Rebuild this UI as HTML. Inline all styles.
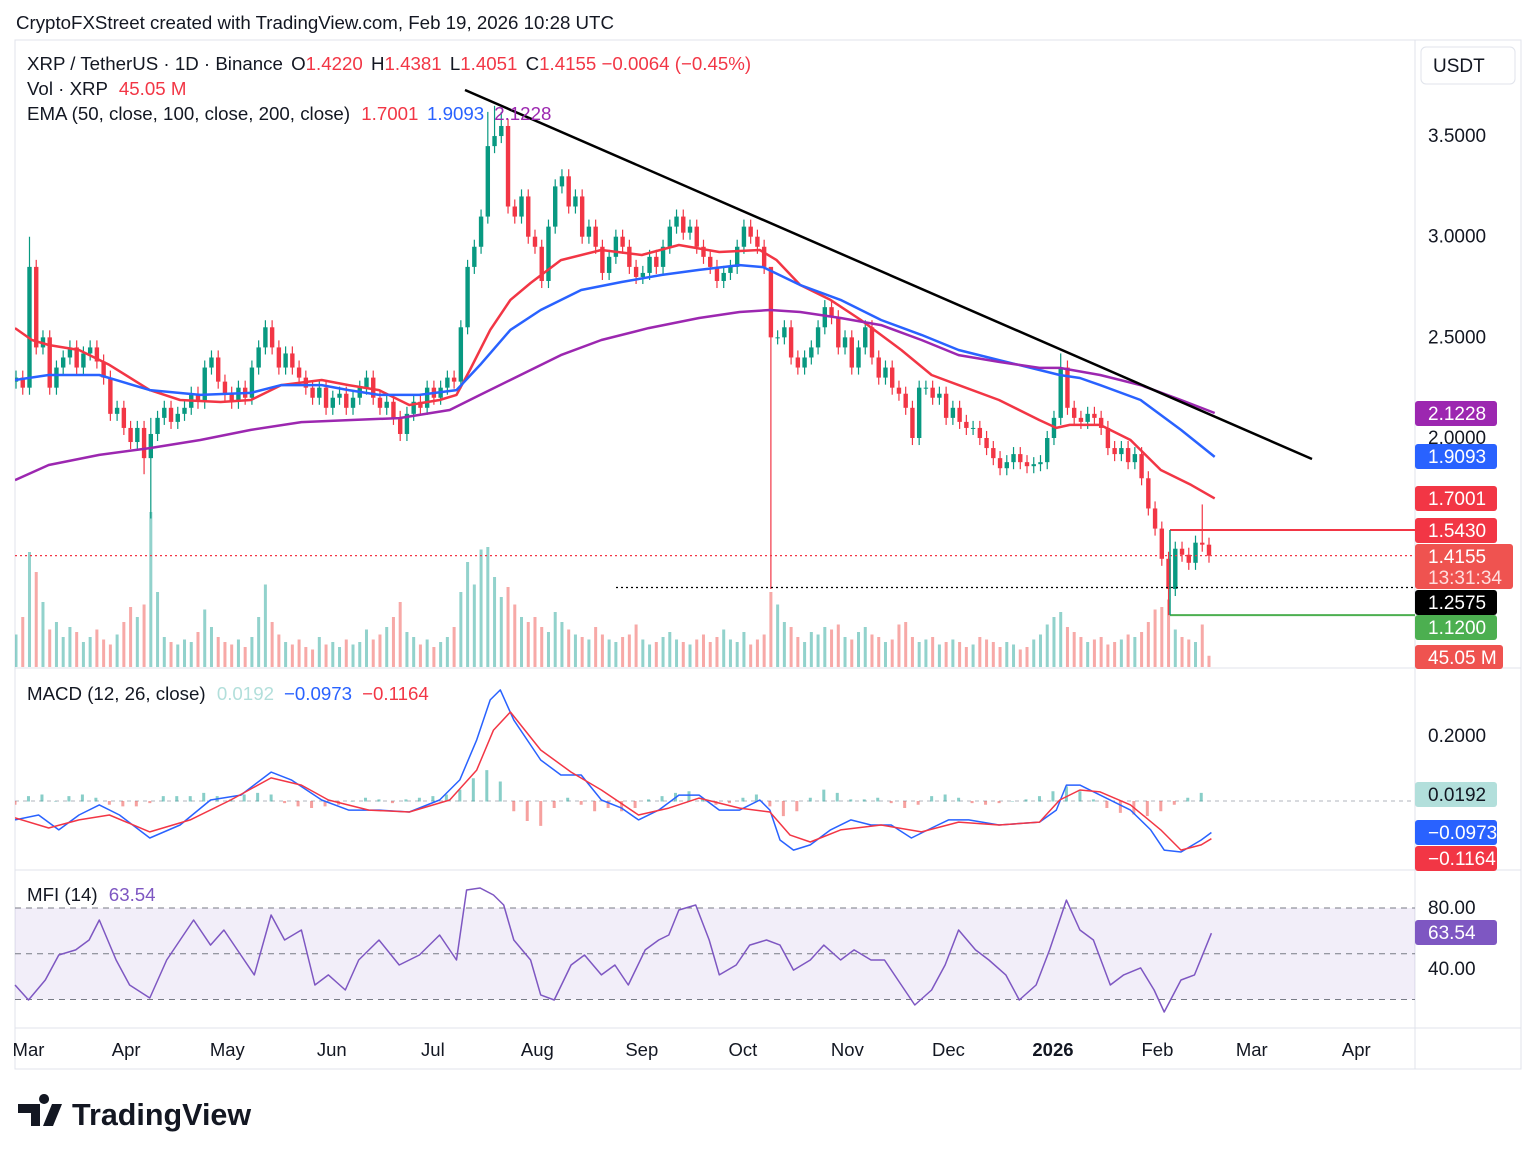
<!DOCTYPE html>
<html><head><meta charset="utf-8">
<style>
body{margin:0;background:#fff;font-family:"Liberation Sans",Arial,sans-serif;}
svg text{font-family:"Liberation Sans",Arial,sans-serif;}
</style></head>
<body>
<svg id="c" width="1536" height="1159" viewBox="0 0 1536 1159" xmlns="http://www.w3.org/2000/svg">
<rect x="0" y="0" width="1536" height="1159" fill="#fff"/>
<text x="16" y="29" font-size="18.7" fill="#131722">CryptoFXStreet created with TradingView.com, Feb 19, 2026 10:28 UTC</text>
<rect x="15" y="40" width="1506" height="1029" fill="none" stroke="#e0e3eb"/>
<line x1="1415" y1="40" x2="1415" y2="1069" stroke="#e0e3eb"/>
<line x1="15" y1="668" x2="1521" y2="668" stroke="#e0e3eb"/>
<line x1="15" y1="870" x2="1521" y2="870" stroke="#e0e3eb"/>
<line x1="15" y1="1028" x2="1521" y2="1028" stroke="#e0e3eb"/>
<g id="g"></g>
<g font-size="18.7">
<text x="27" y="70" fill="#131722">XRP / TetherUS · 1D · Binance <tspan fill="#131722" dx="3">O</tspan><tspan fill="#f23645">1.4220</tspan> <tspan fill="#131722" dx="3">H</tspan><tspan fill="#f23645">1.4381</tspan> <tspan fill="#131722" dx="3">L</tspan><tspan fill="#f23645">1.4051</tspan> <tspan fill="#131722" dx="3">C</tspan><tspan fill="#f23645">1.4155 −0.0064 (−0.45%)</tspan></text>
<text x="27" y="95" fill="#131722">Vol · XRP <tspan fill="#f23645" dx="6">45.05 M</tspan></text>
<text x="27" y="120" fill="#131722">EMA (50, close, 100, close, 200, close) <tspan fill="#f23645" dx="6">1.7001</tspan><tspan fill="#2962ff" dx="10">1.9093</tspan><tspan fill="#9c27b0" dx="10">2.1228</tspan></text>
<text x="27" y="700" fill="#131722">MACD (12, 26, close) <tspan fill="#b2dfdb" dx="6">0.0192</tspan><tspan fill="#2962ff" dx="10">−0.0973</tspan><tspan fill="#f23645" dx="10">−0.1164</tspan></text>
<text x="27" y="901" fill="#131722">MFI (14) <tspan fill="#7e57c2" dx="6">63.54</tspan></text>
</g>
<g>
<path d="M18 1104h22v22h-9v-13h-13z M44 1104a5 5 0 1 1 0.1 0z" fill="#131722"/>
<path d="M52 1104h10l-9 22h-10z" fill="#131722"/>
<text x="72" y="1125" font-size="30.5" font-weight="bold" fill="#131722">TradingView</text>
</g>
</svg>
<script>
// ---- data ----
const closes=[2.30,2.25,2.85,2.45,2.50,2.25,2.35,2.40,2.45,2.35,2.42,2.45,2.38,2.30,2.12,2.15,2.05,1.98,2.05,1.90,
2.02,2.10,2.15,2.08,2.12,2.15,2.22,2.18,2.35,2.40,2.28,2.22,2.18,2.25,2.20,2.35,2.45,2.55,2.45,2.35,
2.42,2.35,2.30,2.25,2.20,2.25,2.15,2.20,2.22,2.15,2.20,2.25,2.30,2.20,2.15,2.18,2.10,2.02,2.12,2.18,
2.15,2.25,2.20,2.25,2.30,2.28,2.55,2.85,2.95,3.10,3.45,3.50,3.55,3.15,3.10,3.20,3.00,2.95,2.78,3.05,
3.25,3.30,3.15,3.20,3.00,3.05,2.95,2.82,2.90,3.00,2.95,2.85,2.80,2.82,2.90,2.85,2.95,3.05,3.10,3.02,
3.05,2.95,2.90,2.85,2.78,2.82,2.85,2.95,3.05,3.00,2.95,2.85,2.50,2.50,2.55,2.40,2.35,2.40,2.45,2.55,
2.65,2.60,2.45,2.50,2.35,2.45,2.55,2.40,2.30,2.35,2.25,2.22,2.15,2.00,2.25,2.25,2.20,2.22,2.10,2.15,
2.08,2.05,2.05,2.00,1.95,1.90,1.85,1.88,1.92,1.88,1.86,1.87,1.88,2.00,2.10,2.35,2.15,2.10,2.08,2.12,
2.10,2.05,1.95,1.92,1.95,1.88,1.92,1.80,1.65,1.55,1.40,1.25,1.45,1.42,1.38,1.48,1.47,1.4155];
const highOverride={2:3.0,20:2.1,70:3.62,71:3.65,72:3.62,155:2.42,112:2.62,176:1.67};
const lowOverride={20:1.60,112:1.25,171:1.12,19:1.82};
const volumes=[130,200,460,380,260,150,180,120,160,140,100,120,150,110,90,130,180,240,200,250,
620,300,120,100,90,110,100,140,230,160,120,100,90,110,80,120,200,330,180,130,
100,90,110,80,70,120,90,100,80,110,90,100,150,110,130,160,200,260,140,120,
90,110,80,100,120,160,300,420,330,470,480,360,280,320,250,200,180,200,160,140,
220,180,150,130,120,110,160,130,110,100,120,130,170,110,90,100,120,140,110,100,
90,110,130,100,120,150,110,100,140,90,110,130,300,250,180,160,120,100,140,130,
160,150,170,120,110,140,160,130,120,100,110,170,180,120,100,110,120,90,100,110,
100,80,90,120,110,100,80,100,90,70,80,110,130,170,200,220,160,140,120,100,
110,120,90,100,110,130,120,140,180,230,240,270,150,120,110,100,170,45];
const emaDays=[0,5,10,19,28,40,49,61,70,79,91,99,108,117,126,131,135,141,147,153,162,174,186,197,209,221,226,233,242,251,263,272,280,292,304,309,313,322,331,340,349,356];
const ema50=[2.546,2.487,2.462,2.437,2.363,2.238,2.189,2.179,2.189,2.263,2.288,2.263,2.238,2.164,2.189,2.214,2.338,2.537,2.686,2.770,2.884,2.934,2.909,2.959,2.924,2.934,2.884,2.760,2.686,2.586,2.437,2.313,2.263,2.189,2.089,2.050,2.065,2.065,1.990,1.841,1.767,1.700];
const ema100Days=[0,10,25,40,55,70,79,91,99,108,120,131,138,147,156,168,180,192,203,215,222,233,245,257,269,280,292,304,310,316,322,334,346,356];
const ema100=[2.288,2.313,2.313,2.238,2.214,2.224,2.263,2.263,2.238,2.214,2.214,2.238,2.363,2.537,2.636,2.735,2.775,2.810,2.835,2.859,2.849,2.760,2.686,2.586,2.512,2.437,2.387,2.338,2.313,2.298,2.263,2.189,2.040,1.906];
const ema200Days=[0,10,25,40,55,70,85,99,114,129,138,150,162,174,188,203,215,224,233,245,257,269,280,292,304,310,322,334,346,356];
const ema200=[1.791,1.866,1.916,1.950,1.990,2.040,2.079,2.089,2.099,2.139,2.214,2.313,2.412,2.487,2.546,2.596,2.626,2.636,2.626,2.596,2.561,2.487,2.412,2.378,2.348,2.348,2.313,2.263,2.189,2.124];
const macdDays=[0,7,13,19,25,31,40,49,58,67,76,82,91,99,108,117,126,132,137,141,144,148,156,162,168,174,180,185,191,197,203,209,215,221,224,227,231,236,242,248,254,260,266,272,277,283,292,304,309,312,316,322,331,337,341,346,352,355];
const macdLine=[-58,-43,-89,-43,-12,-43,-114,-74,3,18,89,65,3,-28,-28,-34,3,65,188,311,342,249,126,80,80,3,-22,-58,-28,18,18,-28,-28,3,-28,-120,-151,-135,-89,-58,-74,-74,-114,-83,-58,-58,-74,-65,-28,49,49,18,-28,-89,-151,-157,-120,-97];
const signalDays=[0,10,19,28,40,52,64,76,85,93,105,117,129,137,142,147,156,165,174,185,194,203,215,224,230,236,245,257,269,280,292,304,310,316,322,331,340,346,352,355];
const signalLine=[-52,-83,-58,-43,-95,-58,3,71,49,3,-28,-34,3,95,218,274,157,89,34,-43,-22,9,-22,-34,-105,-126,-89,-74,-95,-65,-74,-65,3,34,28,-12,-89,-151,-135,-116];
const histValues=[-10,15,20,0,15,20,10,-10,-15,-15,-5,15,15,15,25,15,5,20,25,20,-5,-15,-20,-15,-10,0,10,5,-5,5,10,15,20,35,70,95,60,-30,-60,-75,-20,10,-10,-30,-20,-30,-20,5,15,25,30,10,-10,-5,10,20,-15,-45,-30,10,35,25,5,5,10,-5,-20,-10,15,20,10,-5,-10,-5,0,5,15,30,45,30,5,-20,-35,-40,-45,-30,-10,10,25];
const mfiDays=[0,4,9,13,18,22,25,30,34,40,45,50,53,58,62,67,71,76,80,85,89,93,98,102,108,114,120,126,131,134,138,142,145,148,153,156,160,165,169,174,178,182,187,191,194,197,202,206,209,214,218,223,227,231,236,240,245,249,254,258,263,267,272,276,280,285,289,294,298,303,307,312,316,320,325,329,334,338,341,346,350,355];
const mfiValues=[29.5,19.7,32.8,49.2,52.5,59.0,72.1,45.9,29.5,21.0,45.9,62.3,72.1,55.7,65.6,49.2,36.1,75.4,59.0,65.6,29.5,36.1,26.2,45.9,59.0,42.6,49.2,62.3,45.9,91.8,93.1,88.5,82.0,59.0,45.9,23.0,19.7,42.6,49.2,36.1,42.6,29.5,52.5,59.0,62.3,78.7,82.0,59.0,36.1,42.6,55.7,59.0,55.7,39.3,45.9,55.7,45.9,52.5,45.9,45.9,29.5,16.4,26.2,42.6,65.6,52.5,45.9,36.1,19.7,29.5,52.5,85.2,65.6,59.0,29.5,36.1,40.7,26.2,11.8,32.8,36.1,63.5];
const monthLabels=["Mar","Apr","May","Jun","Jul","Aug","Sep","Oct","Nov","Dec","2026","Feb","Mar","Apr"];
const monthDays=[4,33,63,94,124,155,186,216,247,277,308,339,367,398];
const priceTicks=[3.5,3.0,2.5,2.0];
// ---- scales ----
const X=d=>15+3.37*d;
const XC=i=>X(2*i+0.3);
const YP=p=>438-(p-2)*201.3;
const YM=v=>801-v/1000*325;
const YF=v=>908-(v-80)*1.525;
const YV=v=>667-v*0.25;
const NS="http://www.w3.org/2000/svg";
const g=document.getElementById('g');
function mk(tag,attrs,parent){const e=document.createElementNS(NS,tag);for(const k in attrs)e.setAttribute(k,attrs[k]);(parent||g).appendChild(e);return e;}
const defs=mk('defs',{});
const cp=mk('clipPath',{id:'cpP'},defs);mk('rect',{x:15,y:41,width:1400,height:627},cp);
const cpm=mk('clipPath',{id:'cpM'},defs);mk('rect',{x:15,y:669,width:1400,height:200},cpm);
const band=mk('rect',{x:15,y:YF(80),width:1400,height:YF(20)-YF(80),fill:'rgba(126,87,194,0.1)'});


[80,50,20].forEach(v=>{const l=mk('line',{x1:15,x2:1415,y1:YF(v),y2:YF(v),stroke:'#787b86','stroke-dasharray':'6,5','stroke-width':1});

});
const zl=mk('line',{x1:15,x2:1415,y1:YM(0),y2:YM(0),stroke:'#b2b5be','stroke-dasharray':'4,4'});


const pg=mk('g',{'clip-path':'url(#cpP)'});
volumes.forEach((v,i)=>{const o=i>0?closes[i-1]:2.28;const up=closes[i]>=o;
const r=mk('rect',{x:XC(i)-1.5,y:YV(v),width:3,height:667-YV(v),fill:up?'rgba(38,166,154,0.5)':'rgba(239,83,80,0.5)'},pg);

});
closes.forEach((c,i)=>{const o=i>0?closes[i-1]:2.28;const up=c>=o;const col=up?'#089981':'#f23645';
const hi=highOverride[i]!==undefined?highOverride[i]:Math.max(o,c)+0.035;
const lo=lowOverride[i]!==undefined?lowOverride[i]:Math.min(o,c)-0.035;
const cg=mk('g',{},pg);


mk('line',{x1:XC(i),x2:XC(i),y1:YP(hi),y2:YP(lo),stroke:col,'stroke-width':1.2},cg);
const y1=YP(Math.max(o,c)),y2=YP(Math.min(o,c));
mk('rect',{x:XC(i)-2.2,y:y1,width:4.4,height:Math.max(1,y2-y1),fill:col},cg);});
function line(days,vals,ys,col,w,name,par){const d=days.map((t,k)=>(k?'L':'M')+X(t).toFixed(1)+' '+ys(vals[k]).toFixed(1)).join('');
const p=mk('path',{d:d,fill:'none',stroke:col,'stroke-width':w,'stroke-linejoin':'round'},par);

}
line(emaDays,ema50,YP,'#f23645',2.5,'ema-50-line',pg);
line(ema100Days,ema100,YP,'#2962ff',2.5,'ema-100-line',pg);
line(ema200Days,ema200,YP,'#9c27b0',2.5,'ema-200-line',pg);
const tl=mk('line',{x1:465,y1:90,x2:1312,y2:459,stroke:'#000','stroke-width':2.5});


const lv=[[1.543,'#f23645',1170,'resistance-level',''],[1.12,'#4caf50',1170,'support-level',''],[1.2575,'#000',616,'pivot-level','2,3'],[1.4155,'#f23645',15,'last-price-line','2,3']];
lv.forEach(a=>{const l=mk('line',{x1:a[2],x2:1415,y1:YP(a[0]),y2:YP(a[0]),stroke:a[1],'stroke-width':a[4]?1.3:2,'stroke-dasharray':a[4]||'none'});

});
mk('line',{x1:1170,x2:1170,y1:YP(1.543),y2:YP(1.12),stroke:'#089981','stroke-width':1.5});
const mg=mk('g',{'clip-path':'url(#cpM)'});
histValues.forEach((v,k)=>{const y=YM(v);const r=mk('rect',{x:X(4*k)-1.5,y:Math.min(y,YM(0)),width:3,height:Math.abs(y-YM(0))+0.5,fill:v>=0?'rgba(38,166,154,0.55)':'rgba(239,83,80,0.55)'},mg);

});
line(macdDays,macdLine,YM,'#2962ff',1.5,'macd-line',mg);
line(signalDays,signalLine,YM,'#f23645',1.5,'signal-line',mg);
line(mfiDays,mfiValues,YF,'#7e57c2',1.5,'mfi-line');
function txt(x,y,s,attrs,name){const t=mk('text',Object.assign({x:x,y:y,'font-size':19,fill:'#131722'},attrs||{}));t.textContent=s;

return t;}
priceTicks.forEach(p=>txt(1428,YP(p)+6,p.toFixed(4),{},'price-tick'));
txt(1428,742,'0.2000',{},'macd-tick');
txt(1428,914,'80.00',{},'mfi-tick');
txt(1428,975,'40.00',{},'mfi-tick');
monthLabels.forEach((m,k)=>{txt(X(monthDays[k]),1056,m,{'text-anchor':'middle','font-weight':m==='2026'?'bold':'normal','font-size':18.5},'month-label');});
const ub=mk('rect',{x:1421,y:47,width:94,height:37,rx:5,fill:'#fff',stroke:'#e0e3eb'});


txt(1433,72,'USDT',{},'currency-label');
function badge(y,w,h,bg,fg,s,name,s2){const r=mk('rect',{x:1415,y:y,width:w,height:h,rx:3,fill:bg});


txt(1428,y+19,s,{fill:fg},name+'-text');if(s2)txt(1428,y+40,s2,{fill:'#fdd'},name+'-timer');}
badge(401,82,25,'#9c27b0','#fff','2.1228','ema200-badge');
badge(444,82,25,'#2962ff','#fff','1.9093','ema100-badge');
badge(486,82,25,'#f23645','#fff','1.7001','ema50-badge');
badge(518,82,25,'#f23645','#fff','1.5430','resistance-badge');
badge(544,98,45,'#ef5350','#fff','1.4155','last-price-badge','13:31:34');
badge(590,82,25,'#000','#fff','1.2575','pivot-badge');
badge(615,82,25,'#4caf50','#fff','1.1200','support-badge');
badge(645,88,24,'#ef5350','#fff','45.05 M','volume-badge');
badge(782,82,25,'#b2dfdb','#131722','0.0192','macd-hist-badge');
badge(820,82,25,'#2962ff','#fff','−0.0973','macd-badge');
badge(846,82,25,'#f23645','#fff','−0.1164','signal-badge');
badge(920,82,25,'#7e57c2','#fff','63.54','mfi-badge');
</script>
</body></html>
